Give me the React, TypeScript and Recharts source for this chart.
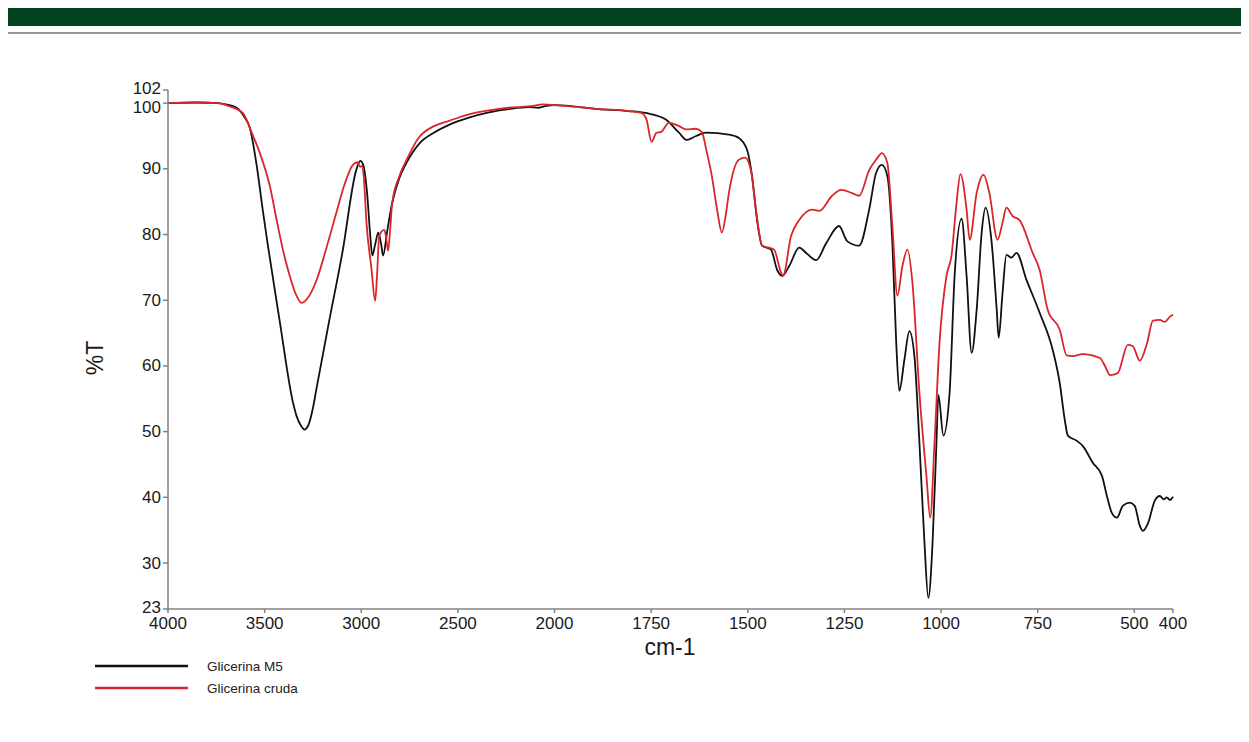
import React from 'react';
import { LineChart, Line, XAxis, YAxis, Legend } from 'recharts';

// Wavenumbers (cm-1) and %T for each spectrum
const blackWn = [4000, 3850, 3740, 3700, 3644, 3603, 3577, 3541, 3510, 3485,
  3423, 3356, 3335, 3310, 3294, 3275, 3250, 3232, 3165, 3098, 3026, 3005,
  2990, 2969, 2954, 2943, 2928, 2912, 2897, 2887, 2866, 2840,
  2804, 2768, 2701, 2624, 2546, 2443, 2340, 2237, 2134, 2082,
  2041, 2000, 1886, 1808, 1764, 1712, 1678, 1658, 1634, 1608,
  1549, 1523, 1502, 1489, 1476, 1463, 1440, 1424, 1411, 1393,
  1367, 1349, 1323, 1297, 1264, 1243, 1212, 1186, 1168, 1153,
  1139, 1126, 1116, 1108, 1095, 1082, 1069, 1056, 1043, 1033,
  1022, 1012, 1007, 994, 978, 965, 947, 934, 921, 908,
  895, 885, 869, 856, 851, 841, 831, 818, 805, 779,
  745, 711, 693, 680, 672, 649, 633, 608, 584, 571,
  558, 545, 530, 512, 499, 486, 478, 465, 447, 434,
  424, 416, 408, 400];
const blackT = [100, 100.1, 100, 99.8, 99.3, 97.8, 96.3, 90.5, 83.8, 78.7,
  67, 54.8, 52.4, 50.8, 50.3, 50.9, 53.6, 56.5, 67, 77.2, 89.8, 91.2,
  90.6, 86, 80, 76.8, 78.5, 80.3, 78.5, 76.8, 80.5, 84.8,
  88.5, 90.8, 93.8, 95.5, 96.7, 97.8, 98.6, 99.1, 99.4, 99.3,
  99.6, 99.7, 99.1, 98.8, 98.5, 97.5, 95.5, 94.4, 95, 95.5,
  95.2, 94.7, 92.9, 88.9, 82.2, 78.3, 77.7, 74.6, 73.7, 75.2,
  78, 77.2, 76.1, 78.7, 81.3, 79, 78.3, 83.8, 89.4, 90.6,
  88.9, 78.7, 63.5, 56.2, 60.9, 65.3, 61.5, 48.3, 33.1, 24.7,
  33.1, 48.3, 55.6, 49.4, 55.9, 73.7, 82.4, 73.7, 62, 68.5,
  80.3, 84.1, 78.7, 68.5, 64.3, 71.1, 76.9, 76.5, 77.2, 73.1,
  68.1, 62.4, 57.4, 51.8, 49.4, 48.6, 47.8, 45.3, 43.3, 40.2,
  37.6, 36.9, 38.7, 39.2, 38.7, 35.7, 34.9, 36, 39.5, 40.2,
  39.7, 40, 39.6, 40.1];

const redWn = [4000, 3850, 3740, 3690, 3613, 3567, 3526, 3474, 3433, 3400,
  3371, 3340, 3309, 3278, 3232, 3180, 3129, 3088, 3046, 3021,
  3005, 2995, 2985, 2974, 2948, 2928, 2918, 2907, 2881, 2871,
  2861, 2850, 2840, 2804, 2768, 2701, 2624, 2546, 2443, 2340,
  2237, 2134, 2057, 2000, 1886, 1808, 1775, 1762, 1749, 1736,
  1725, 1704, 1678, 1660, 1634, 1619, 1606, 1593, 1580, 1567,
  1557, 1549, 1523, 1507, 1492, 1479, 1463, 1445, 1432, 1414,
  1409, 1388, 1367, 1334, 1315, 1282, 1258, 1230, 1212, 1186,
  1168, 1153, 1139, 1126, 1113, 1100, 1087, 1074, 1056, 1038,
  1028, 1017, 1004, 986, 973, 960, 950, 934, 926, 908,
  890, 875, 854, 841, 831, 815, 797, 763, 745, 724,
  693, 675, 660, 634, 589, 576, 563, 543, 517, 504,
  486, 467, 452, 434, 421, 408, 400];
const redT = [100, 100.1, 100, 99.6, 98.5, 95.5, 92.5, 87.5, 81.5, 77,
  73.8, 71, 69.6, 70.3, 73, 78, 83.3, 87.5, 90.5, 91,
  90.3, 90.5, 88, 82.2, 75, 69.9, 74, 79.8, 80.7, 79.5,
  77.5, 81, 84.8, 88.8, 91.2, 94.8, 96.5, 97.3, 98.3, 98.9,
  99.3, 99.5, 99.8, 99.7, 99.1, 98.8, 98.5, 97.5, 94.1, 95.5,
  95.6, 97, 96.5, 96, 96.1, 95.6, 92.5, 88.9, 84, 80.3,
  83, 86.3, 91.4, 91.7, 89.8, 83.8, 78.3, 78, 77.7, 74.2,
  73.7, 79.8, 82.2, 83.8, 83.6, 85.9, 86.8, 86.3, 85.9, 89.8,
  91.4, 92.4, 90.9, 81.3, 70.7, 75.2, 77.7, 72.6, 55.9, 43.3,
  36.9, 48.3, 63.5, 73.7, 76.8, 84.8, 89.2, 83.8, 79.2, 86.3,
  89.1, 86.3, 79.2, 81.8, 84.1, 82.8, 82.2, 77.2, 74.6, 68.5,
  65.5, 61.6, 61.5, 61.8, 61.2, 60, 58.6, 58.9, 63.2, 63,
  60.8, 63.5, 66.9, 67, 66.7, 67.5, 67.8];

const xTickLabels = [4000, 3500, 3000, 2500, 2000, 1750, 1500, 1250, 1000, 750, 500, 400];
const yTicks = [23, 30, 40, 50, 60, 70, 80, 90, 100, 102];

const seriesNames = ['Glicerina M5', 'Glicerina cruda'];
const seriesColors = ['#111111', '#d8262a'];

// Split-scale axis: 4000-2000 compressed 2x relative to 2000-400
const toU = (wn: number) => (wn >= 2000 ? (4000 - wn) / 2 : 1000 + (2000 - wn));
const fromU = (u: number) => (u <= 1000 ? 4000 - 2 * u : 3000 - u);

const blackData = blackWn.map((w, i) => ({ u: toU(w), t: blackT[i] }));
const redData = redWn.map((w, i) => ({ u: toU(w), t: redT[i] }));
const xTicks = xTickLabels.map(toU);

const FONT = '"Liberation Sans", Arial, Helvetica, sans-serif';
const AXIS = '#808080';

// small label nudges where the reference separates crowded tick labels
const yNudge: Record<number, number> = { 102: -2, 100: 4, 23: -2 };

const YTick = (props: any) => {
  const { x, y, payload } = props;
  const v = payload.value;
  return (
    <text x={x} y={y + (yNudge[v] || 0)} textAnchor="end" dominantBaseline="central" fontSize={17} fontFamily={FONT} fill="#1a1a1a">
      {v}
    </text>
  );
};

const LegendContent = () => (
  <div style={{ fontFamily: FONT, fontSize: 13.5, color: '#222' }}>
    {seriesNames.map((n, i) => (
      <div key={n} style={{ display: 'flex', alignItems: 'center', height: 22 }}>
        <svg width={93} height={4} style={{ display: 'block' }}>
          <line x1={0} y1={2} x2={93} y2={2} stroke={seriesColors[i]} strokeWidth={2.5} />
        </svg>
        <span style={{ marginLeft: 19 }}>{n}</span>
      </div>
    ))}
  </div>
);

export default function App() {
  return (
    <div style={{ position: 'relative', width: 1233, height: 726 }}>
      <div style={{ position: 'absolute', left: -1, top: 0, width: 1242, height: 18, background: '#034220' }} />
      <div style={{ position: 'absolute', left: -2, top: 24, width: 1243, height: 2, background: '#9a9a9a' }} />
      <div style={{ position: 'absolute', left: -2, top: 24, width: 2, height: 710, background: '#a8a8a8' }} />
      <div style={{ position: 'absolute', left: -8, top: -8 }}>
        <LineChart width={1249} height={742} margin={{ top: 90, right: 76, bottom: 93, left: 108 }}>
          <XAxis
            type="number"
            dataKey="u"
            domain={[0, 2600]}
            ticks={xTicks}
            interval={0}
            tickFormatter={(v: number) => String(Math.round(fromU(v)))}
            height={40}
            stroke={AXIS}
            strokeWidth={1.5}
            tickSize={4}
            tickMargin={4}
            tick={{ fill: '#1a1a1a', fontSize: 17, fontFamily: FONT }}
            allowDuplicatedCategory={false}
            label={{
              content: () => (
                <text x={670} y={647} textAnchor="middle" dominantBaseline="central" fontSize={23} fontFamily={FONT} fill="#1a1a1a">cm-1</text>
              ),
            }}
          />
          <YAxis
            type="number"
            domain={[23, 102]}
            ticks={yTicks}
            interval={0}
            width={60}
            stroke={AXIS}
            strokeWidth={1.5}
            tickSize={5}
            tickMargin={2}
            tick={<YTick />}
            label={{
              content: () => (
                <text x={95} y={358} transform="rotate(-90 95 358)" textAnchor="middle" dominantBaseline="central" fontSize={23} fontFamily={FONT} fill="#1a1a1a">%T</text>
              ),
            }}
          />
          <Legend
            layout="horizontal"
            verticalAlign="middle"
            align="center"
            content={<LegendContent />}
            wrapperStyle={{ position: 'absolute', left: 95, top: 655, width: 300 }}
          />
          <Line data={blackData} dataKey="t" name={seriesNames[0]} type="monotone" stroke={seriesColors[0]} strokeWidth={1.8} dot={false} isAnimationActive={false} />
          <Line data={redData} dataKey="t" name={seriesNames[1]} type="monotone" stroke={seriesColors[1]} strokeWidth={1.8} dot={false} isAnimationActive={false} />
        </LineChart>
      </div>
    </div>
  );
}
